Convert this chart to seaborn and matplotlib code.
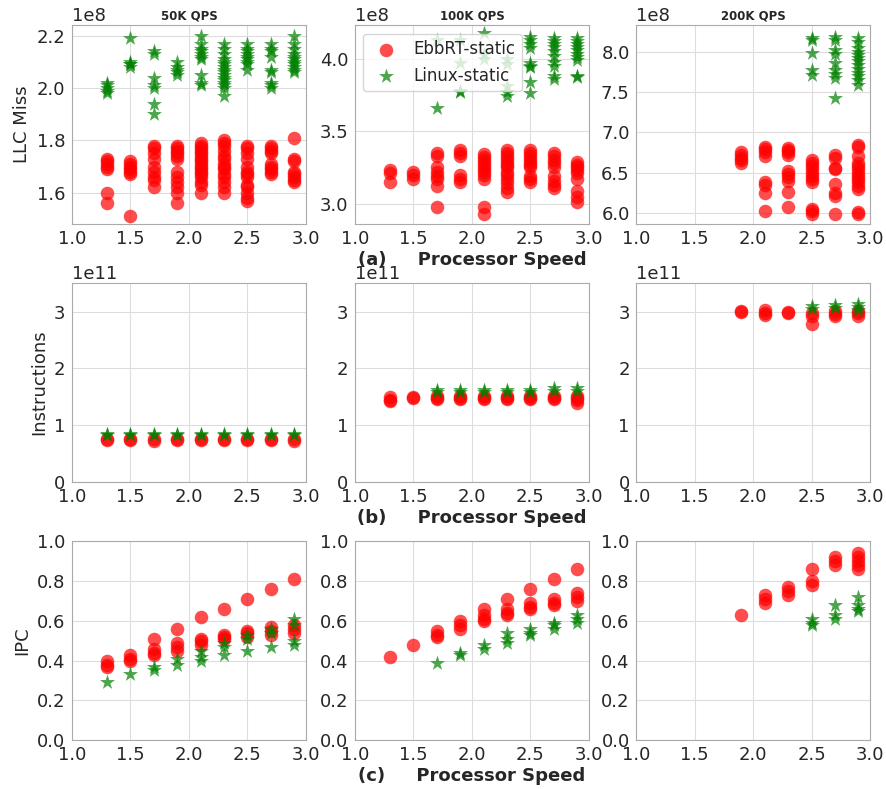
import numpy as np
import pandas as pd
import seaborn as sns
import matplotlib.pyplot as plt

# processor speeds (GHz) shared by every panel
speeds = [1.3, 1.5, 1.7, 1.9, 2.1, 2.3, 2.5, 2.7, 2.9]

# ---- (a) LLC miss, one list of samples per speed (x1e8) ----
llc_50k_ebbrt = [[1.73, 1.72, 1.71, 1.70, 1.69, 1.60, 1.56],
                 [1.72, 1.71, 1.70, 1.69, 1.68, 1.67, 1.51],
                 [1.78, 1.77, 1.75, 1.73, 1.70, 1.68, 1.66, 1.65, 1.62],
                 [1.78, 1.77, 1.76, 1.75, 1.74, 1.73, 1.68, 1.66, 1.64, 1.62, 1.60, 1.56],
                 [1.79, 1.78, 1.77, 1.76, 1.75, 1.74, 1.73, 1.72, 1.71, 1.70, 1.69, 1.68, 1.67, 1.66, 1.64, 1.63, 1.60],
                 [1.80, 1.79, 1.78, 1.76, 1.74, 1.73, 1.71, 1.70, 1.69, 1.67, 1.66, 1.64, 1.62, 1.60],
                 [1.78, 1.77, 1.75, 1.73, 1.70, 1.68, 1.67, 1.66, 1.63, 1.62, 1.60, 1.58, 1.57],
                 [1.78, 1.77, 1.76, 1.75, 1.71, 1.70, 1.69, 1.68, 1.67],
                 [1.81, 1.73, 1.72, 1.68, 1.67, 1.66, 1.65, 1.64]]
llc_50k_linux = [[2.02, 2.01, 2.00, 1.99, 1.98],
                 [2.19, 2.10, 2.09, 2.09, 2.08],
                 [2.14, 2.13, 2.04, 2.01, 2.00, 1.94, 1.90],
                 [2.10, 2.08, 2.07, 2.06, 2.05],
                 [2.20, 2.17, 2.15, 2.14, 2.13, 2.12, 2.11, 2.05, 2.02, 2.01],
                 [2.17, 2.15, 2.13, 2.11, 2.10, 2.09, 2.08, 2.07, 2.06, 2.05, 2.04, 2.03, 2.02, 2.01, 2.00, 1.97],
                 [2.17, 2.15, 2.14, 2.13, 2.12, 2.11, 2.10, 2.09, 2.07],
                 [2.17, 2.15, 2.14, 2.12, 2.07, 2.06, 2.02, 2.01, 2.00],
                 [2.20, 2.17, 2.15, 2.13, 2.12, 2.11, 2.10, 2.09, 2.08, 2.07, 2.06]]
llc_100k_ebbrt = [[3.23, 3.21, 3.15],
                  [3.22, 3.20, 3.17],
                  [3.35, 3.33, 3.25, 3.22, 3.19, 3.17, 3.12, 2.98],
                  [3.37, 3.35, 3.33, 3.20, 3.17, 3.15],
                  [3.34, 3.32, 3.30, 3.28, 3.26, 3.24, 3.22, 3.20, 3.17, 2.98, 2.93],
                  [3.37, 3.35, 3.33, 3.31, 3.29, 3.27, 3.25, 3.22, 3.20, 3.17, 3.14, 3.11, 3.08],
                  [3.37, 3.35, 3.33, 3.31, 3.29, 3.27, 3.25, 3.19, 3.17, 3.15],
                  [3.35, 3.33, 3.30, 3.28, 3.25, 3.19, 3.16, 3.13, 3.11],
                  [3.29, 3.27, 3.25, 3.23, 3.21, 3.17, 3.09, 3.05, 3.01]]
llc_100k_linux = [[], [],
                  [4.13, 3.66],
                  [4.13, 3.97, 3.78, 3.77],
                  [4.18, 4.03, 4.00],
                  [4.00, 3.96, 3.81, 3.77, 3.74],
                  [4.15, 4.13, 4.10, 4.07, 3.97, 3.95, 3.94, 3.84, 3.76],
                  [4.14, 4.12, 4.10, 4.08, 4.05, 4.02, 3.98, 3.95, 3.88, 3.86],
                  [4.14, 4.12, 4.10, 4.08, 4.06, 4.03, 4.01, 3.99, 3.88, 3.87]]
llc_200k_ebbrt = [[], [], [],
                  [6.76, 6.72, 6.68, 6.65, 6.62],
                  [6.82, 6.79, 6.76, 6.70, 6.38, 6.35, 6.25, 6.02],
                  [6.81, 6.78, 6.75, 6.72, 6.52, 6.48, 6.45, 6.39, 6.26, 6.07],
                  [6.66, 6.62, 6.58, 6.54, 6.50, 6.46, 6.42, 6.38, 6.05, 6.02, 5.99],
                  [6.72, 6.68, 6.56, 6.54, 6.36, 6.25, 6.21, 5.99],
                  [6.84, 6.82, 6.70, 6.62, 6.58, 6.54, 6.50, 6.46, 6.42, 6.38, 6.33, 6.29, 6.01, 5.98]]
llc_200k_linux = [[], [], [], [], [], [],
                  [8.17, 8.15, 7.98, 7.78, 7.71],
                  [8.18, 8.15, 8.02, 7.97, 7.86, 7.78, 7.72, 7.67, 7.43],
                  [8.17, 8.12, 8.05, 8.00, 7.96, 7.92, 7.88, 7.84, 7.79, 7.74, 7.70, 7.65, 7.59]]

# ---- (b) instructions (x1e11) ----
ins_50k_ebbrt = [[0.76, 0.74]] * 2 + [[0.76, 0.73]] + [[0.76, 0.74]] * 5 + [[0.76, 0.72]]
ins_50k_linux = [[0.84, 0.82]] * 9
ins_100k_ebbrt = [[1.49, 1.45, 1.43], [1.50, 1.48]] + [[1.51, 1.48, 1.46]] * 6 + [[1.52, 1.48, 1.44, 1.40]]
ins_100k_linux = [[], []] + [[1.62, 1.59]] * 5 + [[1.65, 1.60], [1.65, 1.60]]
ins_200k_ebbrt = [[], [], [],
                  [3.02, 2.99], [3.03, 2.98, 2.94], [3.00, 2.97],
                  [2.98, 2.93, 2.78], [3.01, 2.96, 2.93], [3.02, 2.97, 2.93]]
ins_200k_linux = [[], [], [], [], [], [],
                  [3.10, 3.05], [3.11, 3.06], [3.13, 3.08, 3.03]]

# ---- (c) IPC ----
ipc_50k_ebbrt = [[0.40, 0.38, 0.37], [0.43, 0.41, 0.40], [0.51, 0.46, 0.44, 0.43],
                 [0.56, 0.49, 0.47, 0.45], [0.62, 0.51, 0.50, 0.48], [0.66, 0.53, 0.52, 0.51],
                 [0.71, 0.55, 0.54, 0.52], [0.76, 0.57, 0.55, 0.53], [0.81, 0.58, 0.56, 0.54]]
ipc_50k_linux = [[0.29], [0.33], [0.37, 0.35], [0.41, 0.38], [0.45, 0.42, 0.40],
                 [0.49, 0.47, 0.43], [0.53, 0.51, 0.45], [0.56, 0.54, 0.47],
                 [0.61, 0.58, 0.50, 0.48]]
ipc_100k_ebbrt = [[0.42], [0.48], [0.55, 0.53, 0.52], [0.60, 0.58, 0.56],
                  [0.66, 0.63, 0.61, 0.60], [0.71, 0.66, 0.64, 0.63], [0.76, 0.69, 0.67, 0.66],
                  [0.81, 0.71, 0.69, 0.68], [0.86, 0.74, 0.72, 0.70]]
ipc_100k_linux = [[], [], [0.39], [0.44, 0.43], [0.48, 0.46], [0.54, 0.51, 0.49],
                  [0.56, 0.54, 0.53], [0.59, 0.58, 0.56], [0.63, 0.61, 0.59]]
ipc_200k_ebbrt = [[], [], [], [0.63], [0.73, 0.71, 0.69], [0.77, 0.75, 0.73],
                  [0.86, 0.80, 0.78], [0.92, 0.90, 0.88], [0.94, 0.92, 0.90, 0.88, 0.86]]
ipc_200k_linux = [[], [], [], [], [], [], [0.61, 0.59, 0.58], [0.68, 0.63, 0.61],
                  [0.72, 0.68, 0.66, 0.65]]

loads = ['50K QPS', '100K QPS', '200K QPS']
row_labels = ['LLC Miss', 'Instructions', 'IPC']
row_tags = ['(a)', '(b)', '(c)']
row_scale = [1e8, 1e11, 1.0]
row_data = [
    [(llc_50k_ebbrt, llc_50k_linux), (llc_100k_ebbrt, llc_100k_linux), (llc_200k_ebbrt, llc_200k_linux)],
    [(ins_50k_ebbrt, ins_50k_linux), (ins_100k_ebbrt, ins_100k_linux), (ins_200k_ebbrt, ins_200k_linux)],
    [(ipc_50k_ebbrt, ipc_50k_linux), (ipc_100k_ebbrt, ipc_100k_linux), (ipc_200k_ebbrt, ipc_200k_linux)],
]
# y ranges of the LLC panels as shown
llc_ylims = [(1.48e8, 2.24e8), (2.86e8, 4.23e8), (5.86e8, 8.33e8)]


def to_frame(samples, scale):
    xs, ys = [], []
    for s, vals in zip(speeds, samples):
        xs += [s] * len(vals)
        ys += [v * scale for v in vals]
    return pd.DataFrame({'speed': xs, 'value': ys})


sns.set_style('whitegrid', {'grid.color': '#dddddd', 'axes.edgecolor': '#aaaaaa'})
plt.rcParams['font.family'] = ['DejaVu Sans']
plt.rcParams['font.size'] = 13

fig = plt.figure(figsize=(8.87, 7.89), dpi=100)
lefts = [0.081, 0.400, 0.717]
bottoms = [0.716, 0.389, 0.062]
w, h = 0.264, 0.252

for r in range(3):
    for c in range(3):
        ax = fig.add_axes([lefts[c], bottoms[r], w, h])
        ebb, lin = row_data[r][c]
        sns.scatterplot(data=to_frame(ebb, row_scale[r]), x='speed', y='value', ax=ax,
                        color='red', marker='o', s=95, alpha=0.7, linewidth=0,
                        label='EbbRT-static')
        sns.scatterplot(data=to_frame(lin, row_scale[r]), x='speed', y='value', ax=ax,
                        color='green', marker='*', s=130, alpha=0.7, linewidth=0,
                        label='Linux-static')
        ax.set_xlim(1.0, 3.0)
        ax.set_xticks([1.0, 1.5, 2.0, 2.5, 3.0])
        if r == 0:
            ax.set_ylim(*llc_ylims[c])
            ax.set_title(loads[c], fontsize=8.5, fontweight='bold', pad=4)
        elif r == 1:
            ax.set_ylim(0, 3.5e11)
            ax.set_yticks([0, 1e11, 2e11, 3e11])
        else:
            ax.set_ylim(0, 1.0)
            ax.set_yticks([0, 0.2, 0.4, 0.6, 0.8, 1.0])
        ax.tick_params(labelsize=13, pad=1)
        ax.yaxis.get_offset_text().set_fontsize(13)
        ax.set_ylabel(row_labels[r] if c == 0 else '', fontsize=13)
        if c == 1:
            ax.set_xlabel(row_tags[r] + '     Processor Speed', fontsize=13,
                          fontweight='bold', labelpad=2)
        else:
            ax.set_xlabel('')
        if r == 0 and c == 1:
            ax.legend(loc='upper left', fontsize=12, framealpha=0.8,
                      handletextpad=0.6, borderpad=0.4)
        else:
            ax.get_legend().remove()

fig.savefig('out.png', dpi=100)
